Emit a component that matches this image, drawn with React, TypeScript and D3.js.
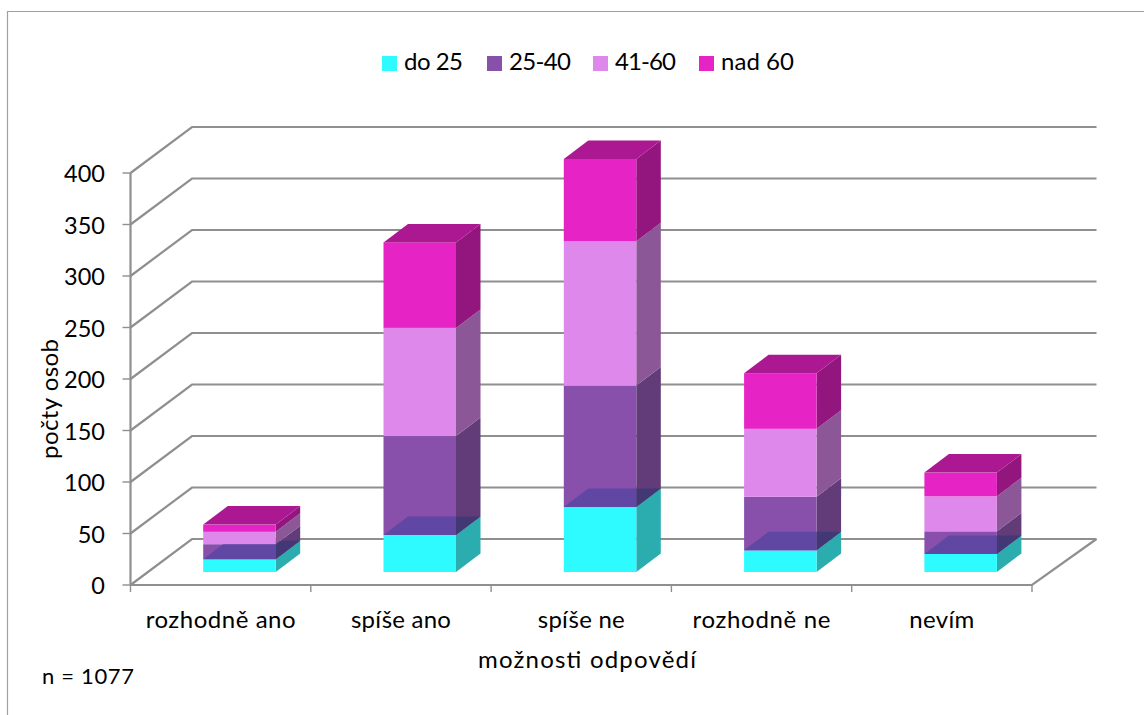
import React from "react";
import * as d3 from "d3";

const categories = ["rozhodně ano", "spíše ano", "spíše ne", "rozhodně ne", "nevím"];
const seriesNames = ["do 25", "25-40", "41-60", "nad 60"];
const do25 = [12.5, 36, 63, 21, 17.5];
const age25to40 = [14.5, 96, 118, 52, 22];
const age41to60 = [12, 105, 140, 66, 34];
const nad60 = [7, 83, 80, 54, 23];
const yTicks = [0, 50, 100, 150, 200, 250, 300, 350, 400];

const frontColors = ["#2efbff", "#8850ab", "#de88ec", "#e623c4"];
const sideColors = ["#2badb0", "#623c78", "#8c5797", "#93167f"];
const topColor = "#ab1892";
const throughFront = "#6047a3";
const throughSide = "#423875";
const lineColor = "#8f8f8f";
const FONT = "Lato, 'Open Sans', sans-serif";

const categoryLabelWidths = [150, 100, 87, 138, 65];
const legendLabelWidths = [59, 62, 61, 73];
const legendSwatchX = [382, 487, 593, 699];

const table = categories.map((c, i) => ({
  c,
  "do 25": do25[i],
  "25-40": age25to40[i],
  "41-60": age41to60[i],
  "nad 60": nad60[i],
}));
const stacked = d3.stack<any>().keys(seriesNames)(table);

const y = d3.scaleLinear().domain([0, 400]).range([585, 173]);
const x = d3.scaleBand().domain(categories).range([130.5, 1032]);
const WALL_DX = 61.5;
const WALL_DY = 46;
const BAR_OFF_X = 18.8;
const BAR_OFF_Y = 13;
const BAR_W = 72.5;
const BAR_DX = 24.5;
const BAR_DY = 18.5;

const pts = (p: number[][]) => p.map((q) => q.join(",")).join(" ");

export default function App() {
  const bars = categories.map((c, i) => {
    const x0 = x(c)! + x.bandwidth() / 2 + BAR_OFF_X - BAR_W / 2;
    const x1 = x0 + BAR_W;
    const layer = (s: number) => {
      const yb = y(stacked[s][i][0]) - BAR_OFF_Y;
      const yt = y(stacked[s][i][1]) - BAR_OFF_Y;
      return { yb, yt };
    };
    const cyanTop = layer(0).yt;
    return (
      <g key={c}>
        {seriesNames.map((n, s) => {
          const { yb, yt } = layer(s);
          return (
            <g key={n}>
              <polygon
                fill={sideColors[s]}
                points={pts([[x1, yb], [x1 + BAR_DX, yb - BAR_DY], [x1 + BAR_DX, yt - BAR_DY], [x1, yt]])}
              />
              <rect x={x0} y={yt} width={BAR_W} height={yb - yt} fill={frontColors[s]} />
              {s === 1 && (
                <g>
                  <polygon
                    fill={throughFront}
                    points={pts([[x0, cyanTop], [x1, cyanTop], [x1, cyanTop - BAR_DY], [x0 + BAR_DX, cyanTop - BAR_DY]])}
                  />
                  <polygon
                    fill={throughSide}
                    points={pts([[x1, cyanTop], [x1 + BAR_DX, cyanTop - BAR_DY], [x1, cyanTop - BAR_DY]])}
                  />
                </g>
              )}
              {s === 3 && (
                <polygon
                  fill={topColor}
                  points={pts([[x0, yt], [x1, yt], [x1 + BAR_DX, yt - BAR_DY], [x0 + BAR_DX, yt - BAR_DY]])}
                />
              )}
            </g>
          );
        })}
      </g>
    );
  });

  const [xL, xR] = x.range();

  return (
    <svg
      width={1144}
      height={715}
      style={{ position: "absolute", left: 0, top: 0, display: "block", background: "#fff" }}
      fontFamily={FONT}
      fill="#000"
    >
      <path d="M7.5,715V11.5H1144" fill="none" stroke="#a0a0a0" strokeWidth={1.2} />

      {/* legend */}
      {seriesNames.map((n, i) => (
        <g key={n}>
          <rect x={legendSwatchX[i]} y={56} width={15} height={15} fill={frontColors[i]} />
          <text
            x={legendSwatchX[i] + 22}
            y={70}
            fontSize={24}
            textLength={legendLabelWidths[i]}
            lengthAdjust="spacing"
          >
            {n}
          </text>
        </g>
      ))}

      {/* walls */}
      {yTicks.map((t) => (
        <g key={t} fill="none" stroke={lineColor} strokeWidth={2.2}>
          <polyline points={pts([[xL, y(t)], [xL + WALL_DX, y(t) - WALL_DY], [xR + WALL_DX + 3, y(t) - WALL_DY]])} />
          <line x1={xL - 8} x2={xL} y1={y(t)} y2={y(t)} strokeWidth={1.4} />
        </g>
      ))}
      <line x1={xL} x2={xL} y1={y(400)} y2={y(0)} stroke={lineColor} strokeWidth={2.2} />
      <polyline
        points={pts([[xL, y(0)], [xR, y(0)], [xR + WALL_DX + 3, y(0) - WALL_DY]])}
        fill="none"
        stroke={lineColor}
        strokeWidth={2.2}
      />
      {d3.range(categories.length + 1).map((i) => {
        const px = xL + i * x.bandwidth();
        return <line key={i} x1={px} x2={px} y1={y(0)} y2={y(0) + 7} stroke={lineColor} strokeWidth={1.4} />;
      })}

      {bars}

      {/* tick labels */}
      {yTicks.map((t) => (
        <text key={t} x={105} y={y(t) + 9} textAnchor="end" fontSize={23.5}>{t}</text>
      ))}
      {categories.map((c, i) => (
        <text
          key={c}
          x={x(c)! + x.bandwidth() / 2}
          y={628}
          textAnchor="middle"
          fontSize={24}
          textLength={categoryLabelWidths[i]}
          lengthAdjust="spacing"
        >
          {c}
        </text>
      ))}

      <text x={587} y={668} textAnchor="middle" fontSize={24} textLength={218} lengthAdjust="spacing">
        možnosti odpovědí
      </text>
      <text
        transform="translate(58,399) rotate(-90)"
        textAnchor="middle"
        fontSize={24}
        textLength={120}
        lengthAdjust="spacing"
      >
        počty osob
      </text>
      <text x={42} y={684} fontSize={22} textLength={92} lengthAdjust="spacing">n = 1077</text>
    </svg>
  );
}
